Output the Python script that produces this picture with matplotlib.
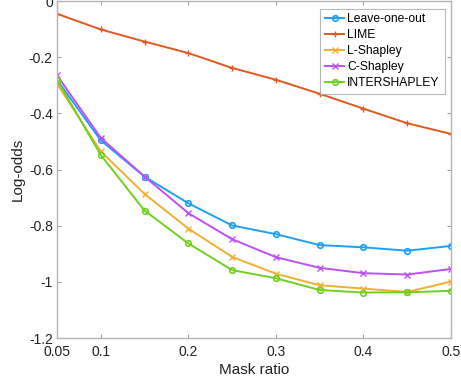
import matplotlib.pyplot as plt
import numpy as np

plt.rcParams['font.family'] = ['Liberation Sans', 'DejaVu Sans']

mask_ratio = [0.05, 0.1, 0.15, 0.2, 0.25, 0.3, 0.35, 0.4, 0.45, 0.5]
leave_one_out = [-0.280, -0.496, -0.625, -0.720, -0.799, -0.830, -0.869, -0.877, -0.889, -0.872]
lime = [-0.045, -0.101, -0.144, -0.185, -0.238, -0.280, -0.330, -0.383, -0.435, -0.473]
l_shapley = [-0.294, -0.535, -0.687, -0.810, -0.911, -0.971, -1.012, -1.024, -1.036, -0.999]
c_shapley = [-0.264, -0.487, -0.625, -0.755, -0.848, -0.912, -0.950, -0.969, -0.974, -0.954]
intershapley = [-0.280, -0.548, -0.746, -0.863, -0.958, -0.987, -1.029, -1.038, -1.037, -1.032]

x_ticks = [0.05, 0.1, 0.2, 0.3, 0.4, 0.5]
x_tick_labels = ['0.05', '0.1', '0.2', '0.3', '0.4', '0.5']
y_ticks = [-1.2, -1, -0.8, -0.6, -0.4, -0.2, 0]
y_tick_labels = ['-1.2', '-1', '-0.8', '-0.6', '-0.4', '-0.2', '0']

fig = plt.figure(figsize=(4.61, 3.80), dpi=100)
ax = fig.add_axes([0.1236, 0.1105, 0.8547, 0.8865])

# series: name, values, color, marker
series = [
    ('Leave-one-out', leave_one_out, '#1ea0f5', 'o'),
    ('LIME', lime, '#e0591e', '+'),
    ('L-Shapley', l_shapley, '#f0b030', 'x'),
    ('C-Shapley', c_shapley, '#c050f5', 'x'),
    ('INTERSHAPLEY', intershapley, '#70d020', 'o'),
]
for nome, valores, cor, marcador in series:
    if marcador == 'o':
        ax.plot(mask_ratio, valores, color=cor, marker='o', markersize=4,
                markerfacecolor='none', markeredgewidth=1.2, linewidth=1.4, label=nome)
    else:
        ax.plot(mask_ratio, valores, color=cor, marker=marcador, markersize=5,
                markeredgewidth=1.0, linewidth=1.4, label=nome)

ax.set_xlim(0.05, 0.5)
ax.set_ylim(-1.2, 0)
ax.set_xticks(x_ticks)
ax.set_xticklabels(x_tick_labels)
ax.set_yticks(y_ticks)
ax.set_yticklabels(y_tick_labels)
ax.tick_params(direction='in', top=True, right=True, length=3, width=0.8,
               color='#a0a0a0', labelsize=10, labelcolor='#222222')
ax.tick_params(axis='x', pad=5)
ax.tick_params(axis='y', pad=3)
for s in ax.spines.values():
    s.set_color('#b4b4b4')
    s.set_linewidth(1.0)

ax.set_xlabel('Mask ratio', fontsize=11, color='#222222', labelpad=3)
ax.set_ylabel('Log-odds', fontsize=11, color='#222222', labelpad=3)

leg = ax.legend(loc='upper right', bbox_to_anchor=(0.99, 0.985), fontsize=8.7,
                frameon=True, fancybox=False, borderpad=0.4, labelspacing=0.32,
                handlelength=1.6, handletextpad=0.25, borderaxespad=0.2)
leg.get_frame().set_edgecolor('#a8a8a8')
leg.get_frame().set_linewidth(0.8)

fig.savefig('out.png', dpi=100)
